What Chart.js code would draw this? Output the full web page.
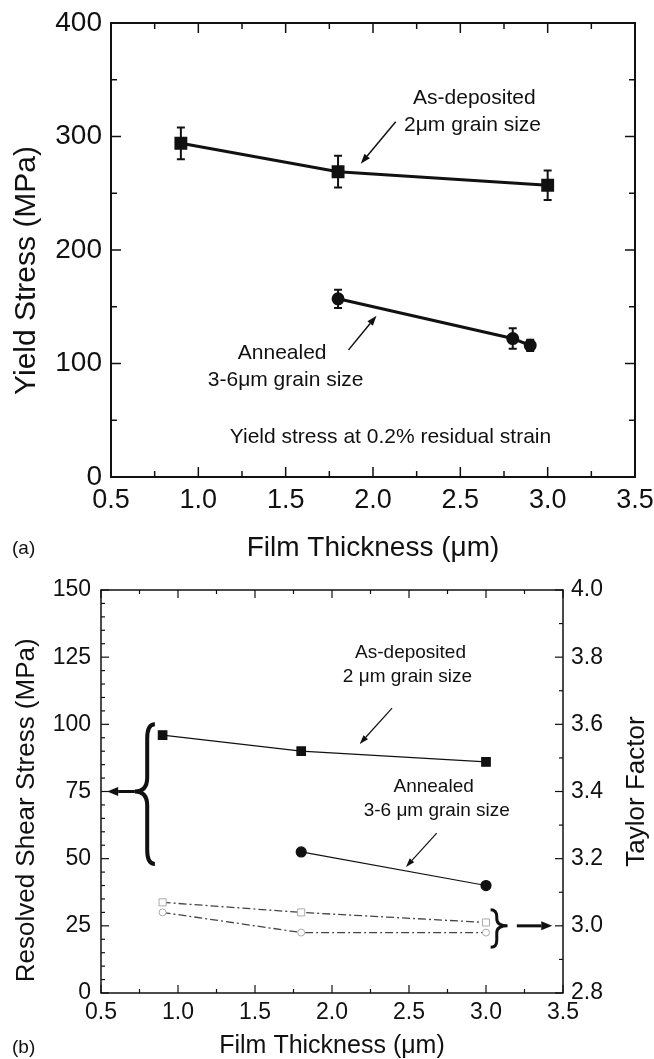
<!DOCTYPE html>
<html>
<head>
<meta charset="utf-8">
<script src="https://cdn.jsdelivr.net/npm/chart.js@4.4.1/dist/chart.umd.min.js"></script>
<style>
 body{margin:0;background:#fff;width:654px;height:1059px;overflow:hidden;position:relative}
 canvas{position:absolute;left:0}
 #cA{top:0}
 #cB{top:565px}
 .tag{position:absolute;left:12px;font:19px 'Liberation Sans',Arial,sans-serif;color:#111}
</style>
</head>
<body>
<canvas id="cA" width="654" height="565"></canvas>
<canvas id="cB" width="654" height="494"></canvas>
<div class="tag" style="top:537px">(a)</div>
<div class="tag" style="top:1036px">(b)</div>
<script>
/* ----- DATA (a) yield stress ----- */
const thickA=[0.9,1.8,3.0];
const asDepYield=[294,269,257];
const asDepYieldErr=[14,14,13];
const annThickA=[1.8,2.8,2.9];
const annYield=[157,122,116];
const annYieldErr=[8,9,5];

/* ----- DATA (b) shear stress / taylor ----- */
const thickB=[0.9,1.8,3.0];
const asDepShear=[96,90,86];
const annThickB=[1.8,3.0];
const annShear=[52.5,40];
const taylorSquares=[3.07,3.04,3.01];
const taylorCircles=[3.04,2.98,2.98];

const FONT="'Liberation Sans', Arial, sans-serif";
Chart.defaults.font.family=FONT;
Chart.defaults.color='#111';
Chart.defaults.animation=false;

const pts=(xs,ys)=>xs.map((x,i)=>({x,y:ys[i]}));

/* ----- PLUGINS ----- */
const frameTicks={
 id:'frameTicks',
 beforeDatasetsDraw(chart,args,o){
  const {ctx,chartArea:a,scales}=chart;
  ctx.save();
  ctx.strokeStyle='#111';
  ctx.lineWidth=o.width;
  ctx.strokeRect(a.left,a.top,a.right-a.left,a.bottom-a.top);
  ctx.lineWidth=o.tickWidth;
  const seg=(x1,y1,x2,y2)=>{ctx.beginPath();ctx.moveTo(x1,y1);ctx.lineTo(x2,y2);ctx.stroke();};
  const walk=(s,minor,major,fn)=>{
   for(let v=s.min;v<=s.max+1e-9;v+=minor){
    const isMajor=Math.abs(v/major-Math.round(v/major))<1e-6;
    fn(s.getPixelForValue(v),isMajor?o.major:o.minor);
   }
  };
  walk(scales.x,o.x[0],o.x[1],(p,l)=>{seg(p,a.bottom,p,a.bottom-l);seg(p,a.top,p,a.top+l);});
  walk(scales[o.left.id],o.left.step[0],o.left.step[1],(p,l)=>seg(a.left,p,a.left+l,p));
  walk(scales[o.right.id],o.right.step[0],o.right.step[1],(p,l)=>seg(a.right,p,a.right-l,p));
  ctx.restore();
 }
};

const errorBars={
 id:'errorBars',
 afterDatasetsDraw(chart){
  const ctx=chart.ctx;
  chart.data.datasets.forEach((ds,i)=>{
   if(!ds.errorBars) return;
   const meta=chart.getDatasetMeta(i);
   const ys=chart.scales[meta.yAxisID];
   ctx.save();
   ctx.strokeStyle='#111';ctx.lineWidth=2;
   ds.data.forEach((p,j)=>{
    const e=ds.errorBars[j];
    const x=meta.data[j].x;
    const t=ys.getPixelForValue(p.y+e),b=ys.getPixelForValue(p.y-e);
    ctx.beginPath();
    ctx.moveTo(x,t);ctx.lineTo(x,b);
    ctx.moveTo(x-4,t);ctx.lineTo(x+4,t);
    ctx.moveTo(x-4,b);ctx.lineTo(x+4,b);
    ctx.stroke();
   });
   ctx.restore();
  });
 }
};

function arrow(ctx,x1,y1,x2,y2,lw,h,w){
 const ang=Math.atan2(y2-y1,x2-x1);
 const bx=x2-h*Math.cos(ang),by=y2-h*Math.sin(ang);
 ctx.lineWidth=lw;
 ctx.beginPath();ctx.moveTo(x1,y1);ctx.lineTo(bx,by);ctx.stroke();
 ctx.beginPath();
 ctx.moveTo(x2,y2);
 ctx.lineTo(bx+w*Math.sin(ang),by-w*Math.cos(ang));
 ctx.lineTo(bx-w*Math.sin(ang),by+w*Math.cos(ang));
 ctx.closePath();ctx.fill();
}

function brace(ctx,xv,xe,xt,yt,ym,yb,r,lw){
 ctx.lineWidth=lw;
 ctx.beginPath();
 ctx.moveTo(xe,yt);
 ctx.quadraticCurveTo(xv,yt,xv,yt+r);
 ctx.lineTo(xv,ym-r);
 ctx.quadraticCurveTo(xv,ym,xt,ym);
 ctx.quadraticCurveTo(xv,ym,xv,ym+r);
 ctx.lineTo(xv,yb-r);
 ctx.quadraticCurveTo(xv,yb,xe,yb);
 ctx.stroke();
}

const notes={
 id:'notes',
 afterDatasetsDraw(chart,args,o){
  const {ctx,scales}=chart;
  const X=v=>scales.x.getPixelForValue(v);
  const Y=(v,ax)=>scales[ax||'y'].getPixelForValue(v);
  ctx.save();
  ctx.fillStyle='#111';ctx.strokeStyle='#111';
  ctx.textAlign='center';ctx.textBaseline='middle';
  (o.texts||[]).forEach(t=>{
   ctx.font=t.size+'px '+FONT;
   ctx.fillText(t.text,X(t.x),Y(t.y));
  });
  // vertical axis titles, read bottom to top
  (o.sideTitles||[]).forEach(t=>{
   ctx.save();
   ctx.font=t.size+'px '+FONT;
   ctx.translate(t.fromRight?chart.width-t.edge:t.edge,Y(t.y,t.axis));
   ctx.rotate(-Math.PI/2);
   ctx.fillText(t.text,0,0);
   ctx.restore();
  });
  (o.arrows||[]).forEach(a=>{
   arrow(ctx,X(a.x1),Y(a.y1,a.axis),X(a.x2),Y(a.y2,a.axis),a.lw,a.h,a.w);
  });
  (o.braces||[]).forEach(b=>{
   brace(ctx,X(b.xv),X(b.xe),X(b.xt),Y(b.top,b.axis),Y(b.mid,b.axis),Y(b.bot,b.axis),b.r,b.lw);
  });
  ctx.restore();
 }
};

const fixW=w=>s=>{s.width=w;s.paddingTop=0;s.paddingBottom=0;};
const fixH=h=>s=>{s.height=h;s.paddingLeft=0;s.paddingRight=0;};

/* ----- CHART (a) ----- */
new Chart(document.getElementById('cA'),{
 type:'scatter',
 data:{datasets:[
  {label:'As-deposited',data:pts(thickA,asDepYield),errorBars:asDepYieldErr,
   showLine:true,borderColor:'#111',backgroundColor:'#111',borderWidth:3,
   pointStyle:'rect',pointRadius:7},
  {label:'Annealed',data:pts(annThickA,annYield),errorBars:annYieldErr,
   showLine:true,borderColor:'#111',backgroundColor:'#111',borderWidth:3,
   pointStyle:'circle',pointRadius:5}
 ]},
 options:{
  responsive:false,
  layout:{padding:{top:23,left:0,right:19,bottom:0}},
  plugins:{
   legend:{display:false},tooltip:{enabled:false},
   frameTicks:{width:2,tickWidth:1.5,major:10,minor:6,x:[0.25,0.5],
    left:{id:'y',step:[50,100]},right:{id:'y',step:[50,100]}},
   notes:{
    texts:[
     {x:2.58,y:334,text:'As-deposited',size:21},
     {x:2.57,y:310,text:'2μm grain size',size:21},
     {x:1.48,y:109,text:'Annealed',size:21},
     {x:1.50,y:85.5,text:'3-6μm grain size',size:21},
     {x:2.10,y:35,text:'Yield stress at 0.2% residual strain',size:21}
    ],
    sideTitles:[
     {text:'Yield Stress (MPa)',size:30,edge:27,y:182}
    ],
    arrows:[
     {x1:2.13,y1:313,x2:1.93,y2:276,lw:1.5,h:10,w:3.5},
     {x1:1.86,y1:112,x2:2.02,y2:142,lw:1.5,h:10,w:3.5}
    ]
   }
  },
  scales:{
   x:{type:'linear',min:0.5,max:3.5,afterFit:fixH(88),
    grid:{display:false,drawTicks:false},border:{display:false},
    ticks:{stepSize:0.5,padding:7,font:{size:27},callback:v=>v.toFixed(1)},
    title:{display:true,text:'Film Thickness (μm)',font:{size:28},padding:{top:5,bottom:0}}},
   y:{min:0,max:400,afterFit:fixW(111),
    grid:{display:false,drawTicks:false},border:{display:false},
    ticks:{stepSize:100,padding:9,font:{size:28}}}
  }
 },
 plugins:[frameTicks,errorBars,notes]
});

/* ----- CHART (b) ----- */
new Chart(document.getElementById('cB'),{
 type:'scatter',
 data:{datasets:[
  {label:'As-deposited',data:pts(thickB,asDepShear),
   showLine:true,borderColor:'#111',backgroundColor:'#111',borderWidth:1.2,
   pointStyle:'rect',pointRadius:6},
  {label:'Annealed',data:pts(annThickB,annShear),
   showLine:true,borderColor:'#111',backgroundColor:'#111',borderWidth:1.2,
   pointStyle:'circle',pointRadius:5},
  {label:'Taylor factor (squares)',data:pts(thickB,taylorSquares),yAxisID:'y2',
   showLine:true,borderColor:'#444',borderWidth:1.3,borderDash:[8,3,2,3],
   pointStyle:'rect',pointRadius:5,pointBorderColor:'#aaa',pointBackgroundColor:'#fff',pointBorderWidth:1},
  {label:'Taylor factor (circles)',data:pts(thickB,taylorCircles),yAxisID:'y2',
   showLine:true,borderColor:'#444',borderWidth:1.3,borderDash:[8,3,2,3],
   pointStyle:'circle',pointRadius:3.5,pointBorderColor:'#aaa',pointBackgroundColor:'#fff',pointBorderWidth:1}
 ]},
 options:{
  responsive:false,
  layout:{padding:{top:25,left:0,right:0,bottom:0}},
  plugins:{
   legend:{display:false},tooltip:{enabled:false},
   frameTicks:{width:1.5,tickWidth:1.2,major:8,minor:4,x:[0.25,0.5],
    left:{id:'y',step:[5,25]},right:{id:'y2',step:[0.1,0.2]}},
   notes:{
    texts:[
     {x:2.51,y:126.5,text:'As-deposited',size:19},
     {x:2.49,y:117.6,text:'2 μm grain size',size:19},
     {x:2.66,y:76.7,text:'Annealed',size:19},
     {x:2.68,y:67.7,text:'3-6 μm grain size',size:19}
    ],
    sideTitles:[
     {text:'Resolved Shear Stress (MPa)',size:26,edge:27,y:68},
     {text:'Taylor Factor',size:26,edge:17,fromRight:true,y:3.4,axis:'y2'}
    ],
    arrows:[
     {x1:2.39,y1:106,x2:2.18,y2:92.7,lw:1.2,h:9,w:3},
     {x1:2.68,y1:59.5,x2:2.48,y2:46.9,lw:1.2,h:9,w:3},
     {x1:0.72,y1:75,x2:0.54,y2:75,lw:3,h:11,w:4.5},
     {x1:3.20,y1:3.0,x2:3.43,y2:3.0,axis:'y2',lw:3,h:11,w:4.5}
    ],
    braces:[
     {xv:0.80,xe:0.85,xt:0.72,top:100,mid:75,bot:48,r:14,lw:4},
     {xv:3.07,xe:3.03,xt:3.14,top:3.048,mid:3.0,bot:2.936,axis:'y2',r:7,lw:3}
    ]
   }
  },
  scales:{
   x:{type:'linear',min:0.5,max:3.5,afterFit:fixH(66),
    grid:{display:false,drawTicks:false},border:{display:false},
    ticks:{stepSize:0.5,padding:6,font:{size:23},callback:v=>v.toFixed(1)},
    title:{display:true,text:'Film Thickness (μm)',font:{size:25,lineHeight:1},padding:{top:0,bottom:0}}},
   y:{min:0,max:150,afterFit:fixW(101),
    grid:{display:false,drawTicks:false},border:{display:false},
    ticks:{stepSize:25,padding:10,font:{size:23}}},
   y2:{position:'right',min:2.8,max:4.0,afterFit:fixW(91),
    grid:{display:false,drawTicks:false},border:{display:false},
    ticks:{stepSize:0.2,padding:8,font:{size:23},callback:v=>v.toFixed(1)}}
  }
 },
 plugins:[frameTicks,errorBars,notes]
});
</script>
</body>
</html>
